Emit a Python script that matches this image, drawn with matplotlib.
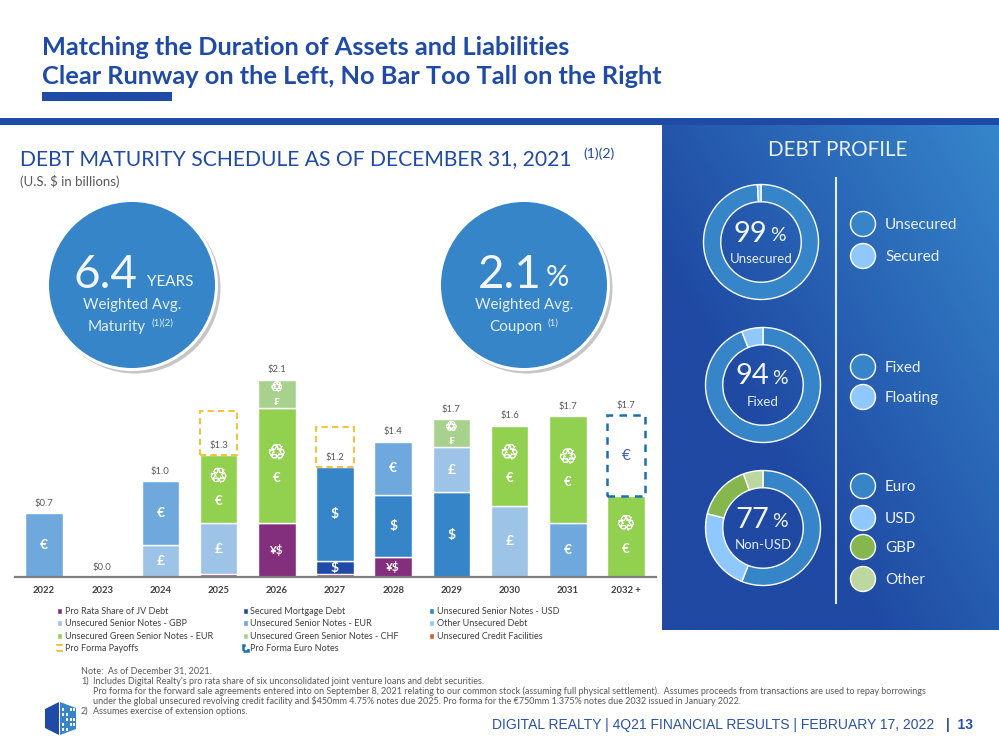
from matplotlib import pyplot as plt
from matplotlib.patches import Circle, Polygon, Rectangle
import matplotlib.patheffects as pe
import numpy as np

plt.rcParams['font.family'] = ['Lato', 'DejaVu Sans']

W, H = 999, 750
BLUE = '#1F4AA5'
MID = '#3585C8'
GRAY = '#595959'

years = ['2022', '2023', '2024', '2025', '2026', '2027', '2028', '2029', '2030', '2031', '2032 +']
totals = ['$0.7', '$0.0', '$1.0', '$1.3', '$2.1', '$1.2', '$1.4', '$1.7', '$1.6', '$1.7', '$1.7']

jv = [0, 0, 0, 0.03, 0.57, 0.03, 0.21, 0, 0, 0, 0]
mortgage = [0, 0, 0, 0, 0, 0.14, 0, 0, 0, 0, 0]
usd = [0, 0, 0, 0, 0, 1.00, 0.66, 0.90, 0, 0, 0]
gbp = [0, 0, 0.34, 0.54, 0, 0, 0, 0.48, 0.76, 0, 0]
eur = [0.68, 0, 0.68, 0, 0, 0, 0.57, 0, 0, 0.57, 0]
other = [0, 0, 0, 0, 0, 0, 0, 0, 0, 0, 0]
credit = [0, 0, 0, 0, 0, 0, 0, 0, 0, 0, 0]
green_eur = [0, 0, 0, 0.73, 1.23, 0, 0, 0, 0.85, 1.14, 0.86]
green_chf = [0, 0, 0, 0, 0.30, 0, 0, 0.30, 0, 0, 0]
euro_notes = [0, 0, 0, 0, 0, 0, 0, 0, 0, 0, 0.86]
payoffs = [0, 0, 0, 0.47, 0, 0.43, 0, 0, 0, 0, 0]

series_names = ['Pro Rata Share of JV Debt', 'Secured Mortgage Debt', 'Unsecured Senior Notes - USD',
                'Unsecured Senior Notes - GBP', 'Unsecured Senior Notes - EUR', 'Other Unsecured Debt',
                'Unsecured Credit Facilities', 'Unsecured Green Senior Notes - EUR',
                'Unsecured Green Senior Notes - CHF']
series_vals = [jv, mortgage, usd, gbp, eur, other, credit, green_eur, green_chf]
series_cols = ['#832F7D', '#1F4AA5', '#3585C8', '#9DC3E6', '#6FA8DC', '#8FC8FF', '#E0592A', '#92D050', '#A9D18E']
series_syms = ['¥$', '$', '$', '£', '€', '', '', '€', '₣']

unsecured_share = [99, 1]
fixed_share = [94, 6]
currency_share = [56, 23, 15.5, 5.5]
donut_big = ['99', '94', '77']
donut_small = ['Unsecured', 'Fixed', 'Non-USD']
legend1 = ['Unsecured', 'Secured']
legend2 = ['Fixed', 'Floating']
legend3 = ['Euro', 'USD', 'GBP', 'Other']

notes = ['Note:  As of December 31, 2021.',
         '1)',
         '2)']
note_lines = ["Includes Digital Realty's pro rata share of six unconsolidated joint venture loans and debt securities.",
              'Pro forma for the forward sale agreements entered into on September 8, 2021 relating to our common stock (assuming full physical settlement).  Assumes proceeds from transactions are used to repay borrowings',
              'under the global unsecured revolving credit facility and $450mm 4.75% notes due 2025. Pro forma for the €750mm 1.375% notes due 2032 issued in January 2022.',
              'Assumes exercise of extension options.']


def px_axes(x0, y0, x1, y1):
    # pixel box (y from the top) to a figure axes
    return fig.add_axes([x0 / W, 1 - y1 / H, (x1 - x0) / W, (y1 - y0) / H])


def no_zero(vals):
    # zero height bars still draw their edge, so leave them out
    return [v if v > 0 else np.nan for v in vals]


fig = plt.figure(figsize=(W / 100, H / 100), dpi=100)
bg = fig.add_axes([0, 0, 1, 1])
bg.axis('off')


def txt(x, y, s, size, color='white', ha='left', va='center', **kw):
    bg.text(x, y + 1.5, s, fontsize=size, color=color, ha=ha, va=va, **kw)


# right panel gradient
gx, gy = np.meshgrid(np.linspace(0, 1, 120), np.linspace(0, 1, 120))
grad = np.clip((gx * 0.8 + (1 - gy) * 0.7 - 0.5) / 1.0, 0, 1)
c0 = np.array([0x1F, 0x49, 0xA3]) / 255
c1 = np.array([0x36, 0x86, 0xCB]) / 255
img = c0[None, None, :] * (1 - grad[..., None]) + c1[None, None, :] * grad[..., None]
bg.imshow(img, extent=(662, 999, 630, 125), origin='upper', aspect='auto')
bg.set_xlim(0, W)
bg.set_ylim(H, 0)

# header
txt(42, 46, 'Matching the Duration of Assets and Liabilities', 18.3, BLUE, weight='bold')
txt(42, 75, 'Clear Runway on the Left, No Bar Too Tall on the Right', 18.3, BLUE, weight='bold')
bg.add_patch(Rectangle((42, 92), 130, 9, color=BLUE, lw=0))
bg.add_patch(Rectangle((0, 118), W, 7, color=BLUE, lw=0))

txt(20, 158, 'DEBT MATURITY SCHEDULE AS OF DECEMBER 31, 2021', 15.2, BLUE)
txt(583, 152.5, '(1)(2)', 10, BLUE)
txt(20, 180, '(U.S. $ in billions)', 9.5, GRAY)

# big circles
for cx in [132, 524]:
    bg.add_patch(Circle((cx + 3, 288), 85.5, color='#A0A0A0', alpha=0.6, lw=0))
    bg.add_patch(Circle((cx, 285), 86, color='white', lw=0))
    bg.add_patch(Circle((cx, 285), 83, color=MID, lw=0))
txt(73, 273, '6.4', 33, color='#F2F6FB')
txt(147, 281, 'YEARS', 11, color='#F2F6FB')
txt(132, 304, 'Weighted Avg.', 10.8, color='#E4EEF8', ha='center')
txt(88, 325, 'Maturity', 11, color='#E4EEF8')
txt(151, 322, '(1)(2)', 7, color='#E4EEF8')
txt(478, 273, '2.1', 33, color='#F2F6FB')
txt(546, 276, '%', 21, color='#F2F6FB')
txt(524, 304, 'Weighted Avg.', 10.8, color='#E4EEF8', ha='center')
txt(489, 325, 'Coupon', 11, color='#E4EEF8')
txt(547, 322, '(1)', 7, color='#E4EEF8')

# bars
PER_UNIT = 94.0
STEP = 58.2
ax = px_axes(15, 577 - 2.5 * PER_UNIT, 656, 577)
ax.patch.set_visible(False)
x = np.arange(len(years))
width = 0.645
bottom = np.zeros(len(years))
stroke = [pe.withStroke(linewidth=0.5, foreground='white')]
for name, vals, col, sym in zip(series_names, series_vals, series_cols, series_syms):
    ax.bar(x, no_zero(vals), width, bottom=bottom, color=col, edgecolor='white', linewidth=1, label=name)
    for i, v in enumerate(vals):
        if v < 0.1:
            continue
        mid = bottom[i] + v / 2
        if col == '#92D050':
            ax.text(i, mid + 0.13, '♲', color='white', ha='center', va='center', fontsize=15,
                    family='DejaVu Sans', path_effects=stroke)
            ax.text(i, mid - 0.13, sym, color='white', ha='center', va='center', fontsize=9.5, weight='bold')
        elif col == '#A9D18E':
            ax.text(i, mid + 0.065, '♲', color='white', ha='center', va='center', fontsize=10,
                    family='DejaVu Sans', path_effects=stroke)
            ax.text(i, mid - 0.09, sym, color='white', ha='center', va='center', fontsize=7.5, weight='bold')
        else:
            size = 8.5 if len(sym) > 1 else 10
            ax.text(i, mid, sym, color='white', ha='center', va='center', fontsize=size, weight='bold')
    bottom = bottom + np.array(vals)

ax.bar(x, no_zero(payoffs), width, bottom=bottom, facecolor='none', edgecolor='#F5C242', linewidth=1.5,
       linestyle=(0, (3, 2)), label='Pro Forma Payoffs')
ax.bar(x, no_zero(euro_notes), width, bottom=bottom, facecolor='none', edgecolor='#1B6FAE', linewidth=1.8,
       linestyle=(0, (3, 2.5)), label='Pro Forma Euro Notes')
for i, v in enumerate(euro_notes):
    if v > 0:
        ax.text(i, bottom[i] + v / 2, '€', color='#3F62B5', ha='center', va='center', fontsize=11)
    ax.annotate(totals[i], (i, bottom[i] + v), xytext=(0, 7), textcoords='offset points',
                ha='center', va='center', fontsize=6.8, color=GRAY)

ax.set_xlim((15 - 44) / STEP, (656 - 44) / STEP)
ax.set_ylim(0, 2.5)
ax.set_xticks(x)
ax.set_xticklabels(years, fontsize=6.8, weight='bold', color='#404040')
ax.tick_params(axis='x', length=0, pad=6.5)
ax.yaxis.set_visible(False)
for s in ['top', 'left', 'right']:
    ax.spines[s].set_visible(False)
ax.spines['bottom'].set_linewidth(1.6)
ax.spines['bottom'].set_color('#7F7F7F')

# legend fills by column, the reference reads by row
handles, labels = ax.get_legend_handles_labels()
order = [0, 3, 7, 9, 1, 4, 8, 10, 2, 5, 6]
ax.legend([handles[k] for k in order], [labels[k] for k in order], loc='upper left',
          bbox_to_anchor=(57 / W, 1 - 607 / H), bbox_transform=fig.transFigure,
          ncol=3, frameon=False, fontsize=6.45, borderpad=0, borderaxespad=0, labelspacing=0.39,
          handlelength=0.55, handleheight=0.6, handletextpad=0.3, columnspacing=3.35,
          labelcolor='#404040')

# notes
txt(81, 670, notes[0], 6.5, GRAY)
txt(81, 680, notes[1], 6.5, GRAY)
txt(81, 709.5, notes[2], 6.5, GRAY)
for yy, line in zip([680, 689.5, 699.5, 709.5], note_lines):
    txt(93, yy, line, 6.5, GRAY)

# logo
bg.add_patch(Polygon([(45, 709), (59, 702), (59, 735), (45, 728)], color=BLUE, lw=0))
bg.add_patch(Polygon([(60, 702), (76, 708), (76, 729), (60, 735)], color=MID, lw=0))
for lx in [62, 66, 70, 73]:
    for ly in [708, 713, 718, 723, 728]:
        if (lx + ly) % 3:
            bg.add_patch(Rectangle((lx, ly), 2, 2.5, color='white', lw=0))

# footer
txt(492, 724, 'DIGITAL REALTY | 4Q21 FINANCIAL RESULTS | FEBRUARY 17, 2022', 10, '#2A52A8', family='Liberation Sans')
txt(973, 724, '|  13', 10, '#2A52A8', ha='right', family='Liberation Sans', weight='bold')

# right panel
txt(838, 148, 'DEBT PROFILE', 14.8, color='#EAF1FA', ha='center')
bg.plot([835.7, 835.7], [178, 603], color='#E4EEF8', lw=1.5)

LIGHT = '#8FC8FF'
donuts = [(761, 242, unsecured_share, [MID, LIGHT]),
          (763, 385, fixed_share, [MID, LIGHT]),
          (763, 528, currency_share, [MID, LIGHT, '#86B74F', '#BDD7A0'])]
for (cx, cy, share, cols), big, small in zip(donuts, donut_big, donut_small):
    dax = px_axes(cx - 60, cy - 60, cx + 60, cy + 60)
    dax.pie(share, colors=cols, startangle=90, counterclock=False, radius=1,
            wedgeprops=dict(width=0.3, edgecolor='white', linewidth=1))
    dax.set_xlim(-60 / 57.5, 60 / 57.5)
    dax.set_ylim(-60 / 57.5, 60 / 57.5)
    txt(cx - 11, cy - 10, big, 21, color='#F2F6FB', ha='center')
    txt(cx + 17, cy - 8, '%', 14, color='#F2F6FB', ha='center')
    txt(cx, cy + 15.5, small, 9.5, color='#E4EEF8', ha='center')

rows = [(legend1, [224, 256], [MID, LIGHT]),
        (legend2, [367, 397], [MID, LIGHT]),
        (legend3, [486, 518, 547, 579], [MID, LIGHT, '#86B74F', '#BDD7A0'])]
for labels, ys, cols in rows:
    for lab, yy, col in zip(labels, ys, cols):
        bg.add_patch(Circle((863, yy), 12.5, facecolor=col, edgecolor='white', lw=1))
        txt(885, yy - 0.5, lab, 11, color='#EAF1FA')

fig.savefig('out.png', dpi=100)
